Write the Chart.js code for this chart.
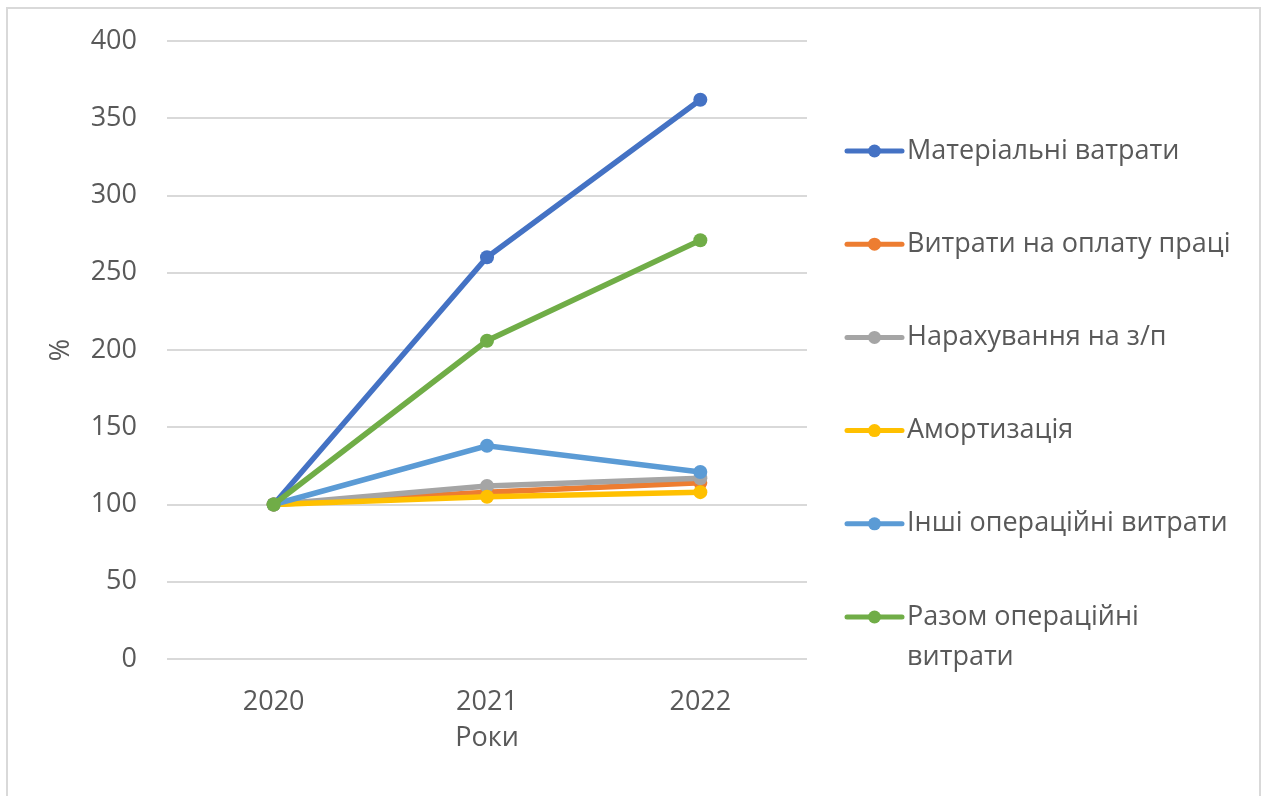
<!DOCTYPE html>
<html lang="uk">
<head>
<meta charset="utf-8">
<title>Динаміка операційних витрат</title>
<script src="https://cdn.jsdelivr.net/npm/chart.js@4/dist/chart.umd.min.js"></script>
<style>
  html, body { margin: 0; padding: 0; background: #fff; }
  #wrap { position: relative; width: 1262px; height: 796px; }
</style>
</head>
<body>
<div id="wrap"><canvas id="mainChart"></canvas></div>
<script>
// years on the x axis
const years = ["2020", "2021", "2022"];

// cost indices, % of 2020
const materialCosts = [100, 260, 362];
const laborCosts = [100, 108, 114];
const payrollCharges = [100, 112, 117];
const depreciation = [100, 105, 108];
const otherOperating = [100, 138, 121];
const totalOperating = [100, 206, 271];

const seriesLabels = [
  "Матеріальні ватрати",
  "Витрати на оплату праці",
  "Нарахування на з/п",
  "Амортизація",
  "Інші операційні витрати",
  "Разом операційні витрати",
];
const seriesValues = [
  materialCosts,
  laborCosts,
  payrollCharges,
  depreciation,
  otherOperating,
  totalOperating,
];
const seriesColors = ["#4472C4", "#ED7D31", "#A5A5A5", "#FFC000", "#5B9BD5", "#70AD47"];

const yMin = 0;
const yMax = 400;
const yStep = 50;

const FONT = "'Open Sans', 'Noto Sans', sans-serif";
const TEXT = "#595959";
const GRID = "#D9D9D9";

// outer frame around the whole chart
const framePlugin = {
  id: "frame",
  beforeDraw(chart) {
    const ctx = chart.ctx;
    ctx.save();
    ctx.fillStyle = "#fff";
    ctx.fillRect(0, 0, chart.width, chart.height);
    ctx.strokeStyle = GRID;
    ctx.lineWidth = 2;
    ctx.strokeRect(7, 8, chart.width - 9, chart.height + 10);
    ctx.restore();
  },
};

// legend on the right: line + marker, label wrapped to the free width
const sideLegend = {
  id: "sideLegend",
  afterDraw(chart) {
    const ctx = chart.ctx;
    const x0 = 847;
    const lineW = 55;
    const textX = 907;
    const maxW = 335;
    const startY = 151;
    const step = 93.2;
    const lineH = 40;
    ctx.save();
    ctx.font = `27px ${FONT}`;
    ctx.textBaseline = "middle";
    ctx.fillStyle = TEXT;
    chart.data.datasets.forEach((ds, i) => {
      const y = startY + i * step;
      ctx.strokeStyle = ds.borderColor;
      ctx.lineWidth = 5;
      ctx.lineCap = "round";
      ctx.beginPath();
      ctx.moveTo(x0, y);
      ctx.lineTo(x0 + lineW, y);
      ctx.stroke();
      ctx.fillStyle = ds.borderColor;
      ctx.beginPath();
      ctx.arc(x0 + lineW / 2, y, 6.5, 0, Math.PI * 2);
      ctx.fill();

      // simple word wrap
      const words = ds.label.split(" ");
      const lines = [];
      let cur = "";
      words.forEach((w) => {
        const test = cur ? cur + " " + w : w;
        if (ctx.measureText(test).width > maxW && cur) {
          lines.push(cur);
          cur = w;
        } else {
          cur = test;
        }
      });
      lines.push(cur);
      ctx.fillStyle = TEXT;
      lines.forEach((ln, k) => ctx.fillText(ln, textX, y + k * lineH));
    });
    ctx.restore();
  },
};

const datasets = seriesValues.map((vals, i) => ({
  label: seriesLabels[i],
  data: vals,
  borderColor: seriesColors[i],
  backgroundColor: seriesColors[i],
  pointBackgroundColor: seriesColors[i],
  pointBorderColor: seriesColors[i],
  borderWidth: 5.5,
  pointRadius: 7,
  pointBorderWidth: 0,
  pointHoverRadius: 7,
  tension: 0,
  borderCapStyle: "round",
  order: -i, // later series sit on top
}));

const ctx = document.getElementById("mainChart").getContext("2d");
new Chart(ctx, {
  type: "line",
  data: { labels: years, datasets },
  options: {
    responsive: true,
    maintainAspectRatio: false,
    animation: false,
    layout: { padding: { left: 0, top: 41, right: 455, bottom: 37 } },
    scales: {
      x: {
        offset: true,
        grid: { display: false },
        border: { display: false },
        ticks: { color: TEXT, font: { family: FONT, size: 27 }, padding: 19 },
        title: {
          display: true,
          text: "Роки",
          color: TEXT,
          font: { family: FONT, size: 27 },
          padding: { top: 0, bottom: 4 },
        },
        afterFit(scale) {
          scale.height = 100;
          scale.paddingLeft = 0;
          scale.paddingRight = 0;
        },
      },
      y: {
        min: yMin,
        max: yMax,
        ticks: {
          stepSize: yStep,
          color: TEXT,
          font: { family: FONT, size: 27 },
          padding: 30,
        },
        grid: { color: GRID, lineWidth: 2, drawTicks: false },
        border: { display: false },
        title: {
          display: true,
          text: "%",
          color: TEXT,
          font: { family: FONT, size: 27 },
          padding: { top: 45, bottom: 0 },
        },
        afterFit(scale) {
          scale.width = 167;
          scale.paddingTop = 0;
          scale.paddingBottom = 0;
        },
      },
    },
    plugins: {
      legend: { display: false },
      tooltip: { enabled: false },
    },
  },
  plugins: [framePlugin, sideLegend],
});
</script>
</body>
</html>
